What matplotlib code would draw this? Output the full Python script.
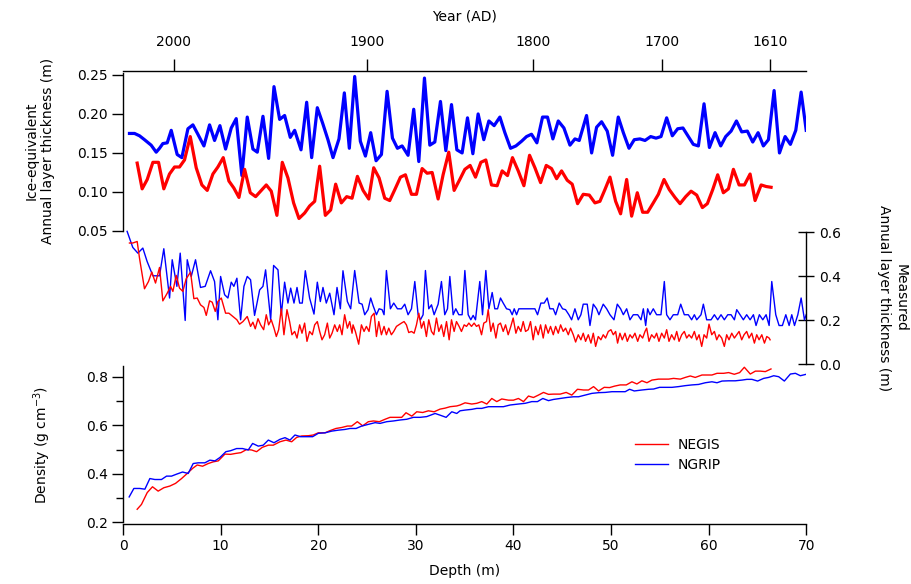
"""Layer thickness and density profiles, NEGIS vs NGRIP firn cores."""
import numpy as np
import matplotlib
matplotlib.use("Agg")
import matplotlib.pyplot as plt
from matplotlib.ticker import MultipleLocator

plt.rcParams["font.family"] = ["DejaVu Sans"]
plt.rcParams["font.size"] = 10

RED = "#ff0000"
BLUE = "#0000ff"

# top axis: year (AD) ticks and the depth they sit at
year_labels = ["2000", "1900", "1800", "1700", "1610"]
year_depths = [5.2, 25.0, 42.0, 55.2, 66.3]

# ice-equivalent annual layer thickness (depth m, thickness m)
ngrip_ice = [
    (0.65, 0.175), (1.17, 0.175), (1.68, 0.172), (2.19, 0.167), (2.87, 0.160),
    (3.39, 0.151), (3.73, 0.156), (4.07, 0.162), (4.52, 0.163), (4.93, 0.179),
    (5.54, 0.148), (6.02, 0.144), (6.64, 0.181), (7.15, 0.186), (7.66, 0.174),
    (8.28, 0.159), (8.86, 0.186), (9.37, 0.166), (9.92, 0.185), (10.50, 0.155),
    (11.08, 0.182), (11.59, 0.194), (12.17, 0.121), (12.72, 0.196), (13.30, 0.155),
    (13.75, 0.151), (14.33, 0.197), (14.91, 0.143), (15.46, 0.235), (16.04, 0.193),
    (16.55, 0.198), (17.13, 0.170), (17.58, 0.179), (18.23, 0.154), (18.81, 0.215),
    (19.32, 0.144), (19.90, 0.208), (20.45, 0.188), (20.99, 0.167), (21.51, 0.144),
    (22.12, 0.168), (22.67, 0.227), (23.18, 0.156), (23.73, 0.248), (24.31, 0.165),
    (24.83, 0.146), (25.37, 0.176), (25.92, 0.140), (26.47, 0.148), (27.05, 0.229),
    (27.60, 0.169), (28.11, 0.156), (28.59, 0.159), (29.20, 0.147), (29.78, 0.206),
    (30.30, 0.139), (30.88, 0.246), (31.43, 0.160), (31.94, 0.164), (32.52, 0.216),
    (33.07, 0.153), (33.65, 0.212), (34.20, 0.154), (34.74, 0.150), (35.29, 0.195),
    (35.84, 0.149), (36.38, 0.200), (36.96, 0.167), (37.48, 0.191), (38.02, 0.185),
    (38.61, 0.196), (39.12, 0.176), (39.70, 0.156), (40.25, 0.159), (40.83, 0.165),
    (41.34, 0.171), (41.85, 0.174), (42.40, 0.163), (42.98, 0.196), (43.49, 0.196),
    (44.04, 0.168), (44.59, 0.191), (45.17, 0.182), (45.79, 0.160), (46.30, 0.168),
    (46.74, 0.166), (47.49, 0.198), (48.01, 0.150), (48.52, 0.183), (49.03, 0.190),
    (49.61, 0.178), (50.16, 0.147), (50.74, 0.196), (51.26, 0.176), (51.84, 0.156),
    (52.38, 0.167), (52.96, 0.168), (53.48, 0.166), (54.06, 0.171), (54.61, 0.169),
    (55.12, 0.171), (55.70, 0.195), (56.28, 0.172), (56.83, 0.181), (57.37, 0.182),
    (57.92, 0.171), (58.43, 0.161), (58.95, 0.159), (59.53, 0.213), (60.08, 0.157),
    (60.66, 0.176), (61.24, 0.159), (61.75, 0.171), (62.30, 0.178), (62.85, 0.191),
    (63.39, 0.177), (63.97, 0.178), (64.52, 0.164), (65.07, 0.176), (65.61, 0.159),
    (66.13, 0.167), (66.71, 0.230), (67.26, 0.150), (67.84, 0.171), (68.38, 0.161),
    (68.93, 0.179), (69.48, 0.228), (70.00, 0.179),
]
negis_ice = [
    (1.44, 0.137), (1.95, 0.104), (2.47, 0.116), (3.05, 0.138), (3.63, 0.138),
    (4.17, 0.104), (4.75, 0.123), (5.27, 0.132), (5.78, 0.132), (6.29, 0.141),
    (6.88, 0.171), (7.49, 0.131), (8.07, 0.109), (8.62, 0.102), (9.20, 0.123),
    (9.71, 0.132), (10.26, 0.144), (10.84, 0.114), (11.35, 0.105), (11.87, 0.093),
    (12.45, 0.129), (13.03, 0.099), (13.58, 0.094), (14.16, 0.102), (14.67, 0.109),
    (15.18, 0.101), (15.76, 0.070), (16.31, 0.138), (16.89, 0.118), (17.47, 0.086),
    (18.02, 0.066), (18.60, 0.073), (19.11, 0.082), (19.63, 0.088), (20.14, 0.133),
    (20.72, 0.070), (21.27, 0.077), (21.78, 0.110), (22.36, 0.086), (22.91, 0.094),
    (23.46, 0.092), (24.01, 0.120), (24.59, 0.102), (25.17, 0.091), (25.68, 0.131),
    (26.23, 0.118), (26.81, 0.092), (27.32, 0.089), (27.84, 0.103), (28.42, 0.119),
    (28.93, 0.122), (29.55, 0.097), (30.06, 0.097), (30.64, 0.130), (31.15, 0.124),
    (31.67, 0.125), (32.28, 0.091), (32.79, 0.122), (33.37, 0.151), (33.92, 0.102),
    (34.50, 0.116), (35.02, 0.129), (35.56, 0.134), (36.11, 0.119), (36.66, 0.138),
    (37.17, 0.141), (37.75, 0.109), (38.33, 0.108), (38.84, 0.127), (39.39, 0.121),
    (39.90, 0.144), (40.49, 0.127), (41.07, 0.108), (41.65, 0.147), (42.20, 0.131),
    (42.78, 0.112), (43.36, 0.134), (43.90, 0.130), (44.42, 0.117), (44.93, 0.127),
    (45.51, 0.115), (46.02, 0.110), (46.57, 0.085), (47.15, 0.097), (47.77, 0.096),
    (48.35, 0.086), (48.86, 0.088), (49.37, 0.103), (49.89, 0.119), (50.47, 0.088),
    (50.98, 0.072), (51.60, 0.116), (52.11, 0.069), (52.69, 0.099), (53.24, 0.074),
    (53.75, 0.074), (54.33, 0.086), (54.85, 0.097), (55.43, 0.116), (55.97, 0.103),
    (56.55, 0.093), (57.07, 0.085), (57.65, 0.094), (58.20, 0.101), (58.78, 0.096),
    (59.36, 0.080), (59.87, 0.085), (60.42, 0.103), (60.93, 0.122), (61.51, 0.099),
    (62.03, 0.104), (62.54, 0.129), (63.12, 0.109), (63.67, 0.109), (64.25, 0.123),
    (64.76, 0.089), (65.38, 0.109), (65.89, 0.107), (66.40, 0.106),
]

# measured annual layer thickness (depth m, thickness m)
ngrip_meas = [
    (0.41, 0.603), (0.99, 0.530), (1.51, 0.504), (2.02, 0.527), (2.46, 0.466),
    (2.87, 0.421), (3.05, 0.401), (3.73, 0.401), (4.17, 0.524), (4.76, 0.300),
    (5.03, 0.474), (5.51, 0.353), (5.85, 0.504), (6.36, 0.198), (6.57, 0.474),
    (6.98, 0.398), (7.42, 0.474), (7.93, 0.348), (8.41, 0.353), (8.96, 0.424),
    (9.37, 0.375), (9.71, 0.201), (9.99, 0.398), (10.40, 0.315), (10.74, 0.300),
    (11.08, 0.372), (11.35, 0.353), (11.66, 0.390), (12.04, 0.201), (12.38, 0.353),
    (12.72, 0.398), (13.06, 0.383), (13.47, 0.221), (13.99, 0.337), (14.33, 0.353),
    (14.60, 0.428), (15.12, 0.201), (15.42, 0.448), (15.87, 0.428), (16.21, 0.224),
    (16.55, 0.372), (16.89, 0.277), (17.17, 0.345), (17.51, 0.277), (17.82, 0.348),
    (18.09, 0.277), (18.36, 0.277), (18.67, 0.424), (19.11, 0.300), (19.56, 0.227),
    (19.90, 0.372), (20.21, 0.284), (20.48, 0.348), (20.82, 0.277), (21.17, 0.322),
    (21.61, 0.224), (21.92, 0.348), (22.26, 0.251), (22.53, 0.424), (22.98, 0.284),
    (23.32, 0.251), (23.73, 0.425), (24.18, 0.277), (24.49, 0.272), (24.76, 0.224),
    (25.10, 0.247), (25.37, 0.300), (25.61, 0.266), (25.96, 0.224), (26.23, 0.251),
    (26.54, 0.247), (26.74, 0.224), (26.98, 0.425), (27.39, 0.251), (27.73, 0.277),
    (28.11, 0.251), (28.52, 0.251), (28.86, 0.272), (29.20, 0.224), (29.55, 0.251),
    (29.89, 0.375), (30.23, 0.224), (30.47, 0.201), (30.74, 0.224), (30.98, 0.425),
    (31.32, 0.251), (31.60, 0.269), (31.87, 0.224), (32.28, 0.272), (32.62, 0.375),
    (32.96, 0.224), (33.24, 0.251), (33.48, 0.398), (33.82, 0.224), (34.09, 0.251),
    (34.40, 0.224), (34.74, 0.224), (35.02, 0.425), (35.36, 0.224), (35.63, 0.201),
    (35.87, 0.221), (36.11, 0.201), (36.55, 0.375), (36.83, 0.224), (37.17, 0.425),
    (37.48, 0.251), (37.82, 0.325), (38.09, 0.251), (38.37, 0.251), (38.67, 0.300),
    (38.95, 0.277), (39.29, 0.251), (39.63, 0.247), (39.87, 0.224), (40.08, 0.251),
    (40.32, 0.224), (40.55, 0.251), (40.83, 0.251), (41.34, 0.251), (41.85, 0.251),
    (42.20, 0.251), (42.47, 0.224), (42.81, 0.277), (43.15, 0.277), (43.46, 0.300),
    (43.73, 0.251), (44.08, 0.251), (44.32, 0.224), (44.69, 0.277), (45.03, 0.251),
    (45.34, 0.247), (45.68, 0.224), (45.96, 0.201), (46.30, 0.251), (46.64, 0.201),
    (46.91, 0.224), (47.15, 0.272), (47.56, 0.272), (47.84, 0.175), (48.18, 0.272),
    (48.52, 0.251), (48.76, 0.224), (49.20, 0.272), (49.55, 0.251), (49.89, 0.224),
    (50.30, 0.201), (50.64, 0.272), (50.98, 0.251), (51.26, 0.224), (51.60, 0.251),
    (51.94, 0.201), (52.28, 0.224), (52.73, 0.224), (53.07, 0.201), (53.31, 0.251),
    (53.55, 0.175), (53.75, 0.251), (53.99, 0.224), (54.33, 0.251), (54.67, 0.224),
    (55.12, 0.224), (55.46, 0.375), (55.70, 0.224), (56.04, 0.201), (56.38, 0.224),
    (56.83, 0.224), (57.14, 0.272), (57.51, 0.224), (57.92, 0.224), (58.26, 0.201),
    (58.54, 0.224), (58.78, 0.201), (59.22, 0.224), (59.46, 0.272), (59.80, 0.201),
    (60.25, 0.201), (60.59, 0.224), (60.93, 0.201), (61.27, 0.224), (61.61, 0.201),
    (61.96, 0.224), (62.30, 0.224), (62.64, 0.201), (62.88, 0.247), (63.22, 0.224),
    (63.56, 0.201), (63.90, 0.224), (64.25, 0.201), (64.59, 0.224), (64.86, 0.175),
    (65.20, 0.224), (65.55, 0.201), (65.89, 0.224), (66.20, 0.175), (66.47, 0.375),
    (66.88, 0.224), (67.22, 0.175), (67.56, 0.175), (67.91, 0.224), (68.25, 0.175),
    (68.52, 0.224), (68.80, 0.175), (69.14, 0.224), (69.48, 0.300), (69.82, 0.201),
    (70.00, 0.224),
]
negis_meas = [
    (0.65, 0.550), (0.99, 0.550), (1.44, 0.557), (1.68, 0.481), (2.19, 0.342),
    (2.60, 0.375), (2.94, 0.418), (3.32, 0.368), (3.73, 0.439), (4.07, 0.287),
    (4.52, 0.322), (4.86, 0.353), (5.10, 0.330), (5.44, 0.403), (5.78, 0.345),
    (6.12, 0.330), (6.46, 0.387), (6.91, 0.418), (7.25, 0.297), (7.59, 0.300),
    (7.93, 0.269), (8.28, 0.257), (8.52, 0.221), (8.86, 0.287), (9.13, 0.281),
    (9.44, 0.239), (9.71, 0.284), (10.06, 0.300), (10.50, 0.231), (10.84, 0.231),
    (11.25, 0.216), (11.66, 0.201), (11.93, 0.181), (12.28, 0.193), (12.72, 0.216),
    (13.06, 0.171), (13.30, 0.190), (13.54, 0.160), (13.82, 0.206), (14.09, 0.178),
    (14.40, 0.156), (14.67, 0.224), (14.91, 0.178), (15.18, 0.201), (15.46, 0.163),
    (15.70, 0.125), (15.94, 0.156), (16.21, 0.251), (16.48, 0.133), (16.79, 0.247),
    (17.06, 0.193), (17.30, 0.133), (17.58, 0.148), (17.82, 0.118), (18.09, 0.178),
    (18.33, 0.140), (18.60, 0.186), (18.84, 0.103), (19.11, 0.148), (19.39, 0.133),
    (19.63, 0.178), (19.90, 0.193), (20.14, 0.148), (20.38, 0.110), (20.65, 0.133),
    (20.93, 0.186), (21.17, 0.118), (21.41, 0.140), (21.68, 0.178), (21.95, 0.148),
    (22.19, 0.178), (22.43, 0.133), (22.70, 0.224), (22.98, 0.163), (23.22, 0.193),
    (23.46, 0.140), (23.56, 0.178), (23.80, 0.148), (24.14, 0.090), (24.42, 0.178),
    (24.69, 0.148), (24.93, 0.171), (25.20, 0.148), (25.44, 0.216), (25.72, 0.231),
    (25.96, 0.125), (26.20, 0.193), (26.47, 0.133), (26.74, 0.171), (26.98, 0.133),
    (27.22, 0.163), (27.49, 0.133), (27.73, 0.148), (28.01, 0.171), (28.25, 0.178),
    (28.52, 0.186), (28.79, 0.193), (29.03, 0.178), (29.27, 0.143), (29.55, 0.148),
    (29.82, 0.140), (30.06, 0.178), (30.30, 0.231), (30.57, 0.163), (30.81, 0.193),
    (31.08, 0.125), (31.32, 0.201), (31.60, 0.148), (31.84, 0.133), (32.11, 0.209),
    (32.35, 0.148), (32.62, 0.178), (32.86, 0.125), (33.14, 0.193), (33.41, 0.110),
    (33.65, 0.201), (33.92, 0.148), (34.16, 0.193), (34.43, 0.171), (34.67, 0.148),
    (34.95, 0.178), (35.19, 0.171), (35.43, 0.186), (35.70, 0.171), (35.97, 0.186),
    (36.21, 0.171), (36.45, 0.178), (36.73, 0.133), (36.96, 0.186), (37.24, 0.193),
    (37.41, 0.247), (37.68, 0.148), (37.92, 0.186), (38.20, 0.118), (38.43, 0.178),
    (38.67, 0.186), (38.95, 0.148), (39.19, 0.178), (39.46, 0.133), (39.73, 0.171),
    (39.97, 0.209), (40.25, 0.140), (40.49, 0.171), (40.76, 0.148), (41.00, 0.193),
    (41.24, 0.148), (41.51, 0.156), (41.75, 0.193), (42.02, 0.110), (42.26, 0.171),
    (42.54, 0.133), (42.78, 0.178), (43.05, 0.118), (43.29, 0.178), (43.56, 0.140),
    (43.80, 0.171), (44.08, 0.133), (44.32, 0.171), (44.59, 0.140), (44.83, 0.178),
    (45.10, 0.148), (45.34, 0.163), (45.62, 0.133), (45.85, 0.163), (46.13, 0.133),
    (46.37, 0.100), (46.64, 0.133), (46.91, 0.110), (47.15, 0.140), (47.39, 0.103),
    (47.67, 0.133), (47.94, 0.095), (48.18, 0.140), (48.42, 0.080), (48.69, 0.125),
    (48.96, 0.110), (49.20, 0.133), (49.44, 0.118), (49.72, 0.148), (49.99, 0.156),
    (50.23, 0.133), (50.47, 0.148), (50.67, 0.095), (50.91, 0.140), (51.15, 0.110),
    (51.43, 0.140), (51.67, 0.103), (51.94, 0.133), (52.18, 0.118), (52.45, 0.140),
    (52.73, 0.103), (52.96, 0.133), (53.24, 0.118), (53.48, 0.148), (53.65, 0.163),
    (53.89, 0.103), (54.16, 0.133), (54.44, 0.118), (54.67, 0.140), (54.91, 0.103),
    (55.19, 0.140), (55.46, 0.118), (55.70, 0.156), (55.94, 0.103), (56.21, 0.133),
    (56.49, 0.110), (56.73, 0.148), (56.97, 0.103), (57.24, 0.133), (57.51, 0.148),
    (57.75, 0.118), (57.99, 0.133), (58.26, 0.118), (58.54, 0.148), (58.78, 0.110),
    (59.02, 0.133), (59.29, 0.080), (59.53, 0.133), (59.80, 0.118), (60.04, 0.181),
    (60.32, 0.133), (60.59, 0.148), (60.83, 0.110), (61.07, 0.133), (61.34, 0.118),
    (61.61, 0.080), (61.85, 0.133), (62.09, 0.110), (62.37, 0.140), (62.64, 0.118),
    (62.88, 0.133), (63.12, 0.148), (63.39, 0.110), (63.63, 0.133), (63.90, 0.148),
    (64.14, 0.118), (64.42, 0.140), (64.69, 0.095), (64.93, 0.133), (65.17, 0.110),
    (65.45, 0.133), (65.72, 0.095), (65.96, 0.125), (66.20, 0.118), (66.30, 0.110),
]

# density (depth m, g cm-3)
ngrip_dens = [
    (0.62, 0.304), (1.10, 0.339), (1.71, 0.339), (2.23, 0.336), (2.74, 0.380),
    (3.25, 0.376), (3.93, 0.376), (4.45, 0.390), (4.96, 0.390), (5.47, 0.398),
    (6.09, 0.407), (6.67, 0.401), (7.18, 0.442), (7.70, 0.445), (8.38, 0.445),
    (8.89, 0.456), (9.41, 0.453), (9.92, 0.467), (10.53, 0.491), (11.01, 0.495),
    (11.63, 0.504), (12.24, 0.504), (12.82, 0.498), (13.27, 0.525), (13.85, 0.514),
    (14.36, 0.518), (14.88, 0.539), (15.46, 0.528), (16.07, 0.542), (16.59, 0.549),
    (17.10, 0.539), (17.61, 0.560), (18.19, 0.553), (18.81, 0.553), (19.42, 0.553),
    (20.00, 0.567), (20.69, 0.569), (21.37, 0.576), (22.05, 0.580), (22.74, 0.583),
    (23.25, 0.587), (23.87, 0.587), (24.45, 0.597), (25.13, 0.604), (25.82, 0.611),
    (26.33, 0.608), (27.01, 0.615), (27.70, 0.618), (28.38, 0.622), (29.06, 0.625),
    (29.75, 0.633), (30.43, 0.633), (31.11, 0.636), (31.97, 0.649), (32.48, 0.642),
    (33.10, 0.633), (33.68, 0.656), (34.19, 0.649), (34.53, 0.660), (35.04, 0.663),
    (35.73, 0.666), (36.24, 0.670), (36.75, 0.670), (37.44, 0.677), (38.12, 0.677),
    (38.97, 0.677), (39.66, 0.684), (40.51, 0.688), (41.20, 0.691), (41.88, 0.698),
    (42.46, 0.698), (43.01, 0.711), (43.59, 0.702), (44.10, 0.707), (44.79, 0.711),
    (45.47, 0.715), (46.15, 0.718), (46.67, 0.718), (47.35, 0.725), (48.03, 0.732),
    (48.72, 0.735), (49.40, 0.736), (50.09, 0.739), (50.77, 0.739), (51.45, 0.739),
    (51.90, 0.749), (52.38, 0.742), (53.16, 0.746), (53.85, 0.749), (54.36, 0.750),
    (54.97, 0.757), (55.56, 0.757), (56.24, 0.757), (56.92, 0.760), (57.61, 0.764),
    (58.29, 0.767), (58.97, 0.769), (59.66, 0.776), (60.34, 0.780), (60.86, 0.776),
    (61.37, 0.783), (62.05, 0.784), (62.73, 0.784), (63.42, 0.787), (63.93, 0.790),
    (64.44, 0.790), (65.02, 0.783), (65.64, 0.794), (66.15, 0.798), (66.67, 0.805),
    (67.18, 0.801), (67.76, 0.783), (68.38, 0.812), (68.89, 0.815), (69.40, 0.805),
    (70.00, 0.811),
]
negis_dens = [
    (1.44, 0.253), (1.88, 0.273), (2.47, 0.322), (3.01, 0.346), (3.59, 0.328),
    (4.17, 0.342), (4.79, 0.349), (5.37, 0.360), (5.99, 0.380), (6.57, 0.401),
    (7.12, 0.422), (7.59, 0.436), (8.14, 0.431), (8.72, 0.442), (9.23, 0.449),
    (9.75, 0.453), (10.43, 0.481), (11.01, 0.480), (11.56, 0.484), (12.07, 0.487),
    (12.65, 0.500), (13.17, 0.498), (13.68, 0.491), (14.26, 0.509), (14.88, 0.518),
    (15.39, 0.518), (16.07, 0.532), (16.69, 0.539), (17.27, 0.532), (17.78, 0.550),
    (18.30, 0.556), (18.98, 0.557), (19.49, 0.560), (20.00, 0.569), (20.69, 0.569),
    (21.20, 0.578), (21.81, 0.587), (22.40, 0.591), (22.98, 0.597), (23.42, 0.597),
    (24.00, 0.615), (24.55, 0.598), (25.13, 0.615), (25.65, 0.618), (26.26, 0.615),
    (26.84, 0.625), (27.35, 0.633), (27.97, 0.633), (28.55, 0.633), (28.99, 0.652),
    (29.58, 0.638), (30.09, 0.656), (30.70, 0.653), (31.28, 0.660), (31.87, 0.656),
    (32.48, 0.667), (32.99, 0.671), (33.51, 0.677), (34.19, 0.680), (34.53, 0.684),
    (35.04, 0.693), (35.73, 0.688), (36.24, 0.691), (36.75, 0.698), (37.27, 0.688),
    (37.78, 0.711), (38.29, 0.698), (38.80, 0.709), (39.49, 0.704), (40.00, 0.704),
    (40.51, 0.711), (41.03, 0.698), (41.54, 0.721), (42.05, 0.715), (42.56, 0.725),
    (43.08, 0.736), (43.59, 0.728), (44.10, 0.729), (44.79, 0.729), (45.40, 0.736),
    (45.98, 0.725), (46.56, 0.749), (47.18, 0.746), (47.69, 0.746), (48.21, 0.760),
    (48.72, 0.742), (49.30, 0.757), (49.85, 0.756), (50.36, 0.762), (50.94, 0.767),
    (51.56, 0.767), (52.14, 0.780), (52.65, 0.771), (53.16, 0.784), (53.68, 0.776),
    (54.19, 0.787), (54.87, 0.791), (55.39, 0.791), (55.90, 0.791), (56.41, 0.794),
    (57.10, 0.791), (57.61, 0.798), (58.12, 0.804), (58.63, 0.798), (59.32, 0.808),
    (59.83, 0.808), (60.34, 0.808), (60.86, 0.815), (61.54, 0.815), (62.05, 0.818),
    (62.63, 0.811), (63.18, 0.818), (63.66, 0.840), (64.27, 0.812), (64.79, 0.824),
    (65.30, 0.824), (65.81, 0.822), (66.39, 0.833),
]


def xy(pairs):
    arr = np.array(pairs)
    return arr[:, 0], arr[:, 1]


fig = plt.figure(figsize=(9.12, 5.84), dpi=100)
left, width = 0.135, 0.749
ax1 = fig.add_axes([left, 0.6045, width, 0.274])
ax2 = fig.add_axes([left, 0.3767, width, 0.226])
ax3 = fig.add_axes([left, 0.1027, width, 0.2705])
for ax in (ax1, ax2, ax3):
    ax.set_xlim(0, 70)
    ax.patch.set_visible(False)
    for sp in ax.spines.values():
        sp.set_visible(False)
        sp.set_linewidth(1.0)

# --- top: ice-equivalent thickness with year axis
ax1.plot(*xy(ngrip_ice), color=BLUE, lw=2.3)
ax1.plot(*xy(negis_ice), color=RED, lw=2.3)
ax1.set_ylim(0.05, 0.2551)
ax1.spines["left"].set_visible(True)
ax1.spines["top"].set_visible(True)
ax1.spines["left"].set_bounds(0.05, 0.252)
ax1.set_yticks([0.05, 0.10, 0.15, 0.20, 0.25])
ax1.set_yticklabels(["0.05", "0.10", "0.15", "0.20", "0.25"])
ax1.xaxis.set_ticks_position("top")
ax1.xaxis.set_label_position("top")
ax1.set_xticks(year_depths)
ax1.set_xticklabels(year_labels)
ax1.tick_params(axis="x", direction="out", length=9, width=1, pad=7)
ax1.tick_params(axis="y", direction="out", length=8, width=1, pad=3)
ax1.set_xlabel("Year (AD)", labelpad=10)
ax1.set_ylabel("Ice-equivalent\nAnnual layer thickness (m)", labelpad=16)

# --- middle: measured thickness, right axis
ax2.plot(*xy(ngrip_meas), color=BLUE, lw=1.0, clip_on=False)
ax2.plot(*xy(negis_meas), color=RED, lw=1.0, clip_on=False)
ax2.set_ylim(0, 0.6)
ax2.spines["right"].set_visible(True)
ax2.set_xticks([])
ax2.yaxis.tick_right()
ax2.yaxis.set_label_position("right")
ax2.set_yticks([0.0, 0.2, 0.4, 0.6])
ax2.set_yticklabels(["0.0", "0.2", "0.4", "0.6"])
ax2.tick_params(axis="y", direction="inout", length=12, width=1, pad=3)
ax2.set_ylabel("Measured\nAnnual layer thickness (m)", rotation=270,
               labelpad=37, va="center")

# --- bottom: density
ax3.plot(*xy(negis_dens), color=RED, lw=1.0, label="NEGIS")
ax3.plot(*xy(ngrip_dens), color=BLUE, lw=1.0, label="NGRIP")
ax3.set_ylim(0.192, 0.845)
ax3.spines["left"].set_visible(True)
ax3.spines["bottom"].set_visible(True)
ax3.spines["left"].set_bounds(0.2, 0.845)
ax3.set_yticks([0.2, 0.4, 0.6, 0.8])
ax3.set_yticklabels(["0.2", "0.4", "0.6", "0.8"])
ax3.yaxis.set_minor_locator(MultipleLocator(0.1))
ax3.set_xticks(range(0, 71, 10))
ax3.tick_params(axis="both", which="major", direction="out", length=8, width=1, pad=3)
ax3.tick_params(axis="y", which="minor", direction="out", length=5, width=1)
ax3.set_xlabel("Depth (m)", labelpad=8)
ax3.set_ylabel("Density (g cm$^{-3}$)", labelpad=24)
ax3.legend(loc="upper left", bbox_to_anchor=(0.696, 0.250),
           bbox_transform=fig.transFigure, frameon=False, borderpad=0,
           borderaxespad=0, handlelength=2.4, handletextpad=0.7,
           labelspacing=0.45)

fig.savefig("out.png", dpi=100)
